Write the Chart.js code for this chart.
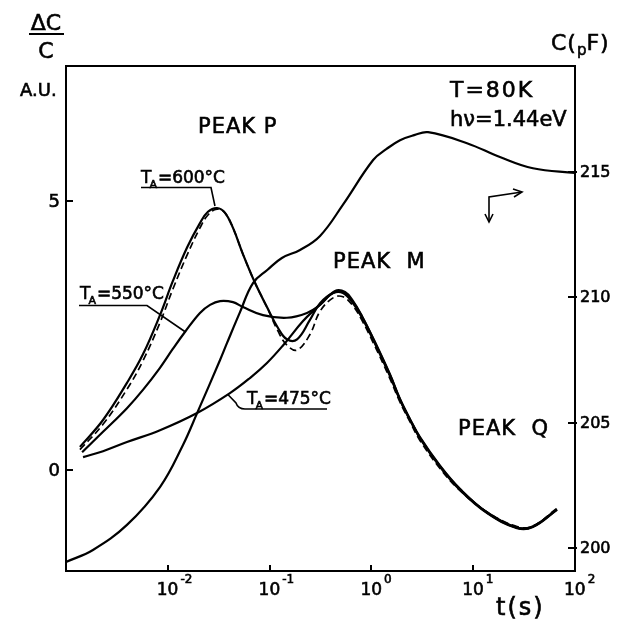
<!DOCTYPE html>
<html>
<head>
<meta charset="utf-8">
<script src="https://cdn.jsdelivr.net/npm/chart.js@4/dist/chart.umd.min.js"></script>
<style>
  html, body { margin: 0; padding: 0; background: #fff; }
</style>
</head>
<body>
<canvas id="chart" width="627" height="619"></canvas>
<script>
// capacitance transient C(t), right axis (pF)
const tCap = [0.00100, 0.00184, 0.00397, 0.00838, 0.0141, 0.0194, 0.0326, 0.0382, 0.0512, 0.0687,
  0.0955, 0.132, 0.199, 0.313, 0.526, 1.04, 1.41, 1.91, 2.63, 3.60, 8.69, 18.3, 38.6, 100];
const capPF = [199.44, 199.92, 200.92, 202.43, 204.11, 205.38, 207.50, 208.18, 209.41, 210.57,
  211.10, 211.57, 211.89, 212.45, 213.70, 215.48, 215.92, 216.27, 216.47, 216.59, 216.15, 215.60, 215.15, 214.96];

// dC/C spectra, left axis (A.U.)
const t600 = [0.00137, 0.00231, 0.00397, 0.00570, 0.00838, 0.0112, 0.0155, 0.0207, 0.0248, 0.0304,
  0.0365, 0.0437, 0.0548, 0.0719, 0.0942, 0.121, 0.148, 0.186, 0.249, 0.313, 0.420, 0.526, 0.661,
  0.809, 1.04, 1.52, 1.91, 2.39, 3.00, 4.72, 7.41, 13.7, 26.9, 38.6, 66.5];
const dc600 = [0.43, 0.93, 1.62, 2.15, 2.88, 3.51, 4.14, 4.59, 4.80, 4.87,
  4.78, 4.50, 4.01, 3.48, 3.03, 2.64, 2.43, 2.43, 2.79, 3.10, 3.29, 3.29, 3.10,
  2.83, 2.42, 1.75, 1.30, 0.93, 0.59, 0.06, -0.37, -0.80, -1.08, -1.06, -0.74];
const dc600b = [0.38, 0.85, 1.50, 2.03, 2.74, 3.36, 4.00, 4.50, 4.74, 4.85,
  4.78, 4.50, 4.01, 3.48, 3.03, 2.58, 2.32, 2.23, 2.52, 2.95, 3.20, 3.22, 3.05,
  2.78, 2.37, 1.70, 1.26, 0.90, 0.55, 0.03, -0.38, -0.78, -1.05, -1.04, -0.71];

const t550 = [0.00144, 0.00231, 0.00397, 0.00570, 0.00838, 0.0112, 0.0148, 0.0207, 0.0260, 0.0326,
  0.0437, 0.0548, 0.0861, 0.148, 0.233, 0.313, 0.440, 0.551, 0.661, 0.809, 1.04, 1.52, 1.91, 2.39,
  3.00, 4.72, 7.41, 13.7, 26.9, 38.6, 66.5];
const dc550 = [0.33, 0.71, 1.15, 1.49, 1.90, 2.25, 2.57, 2.92, 3.07, 3.14,
  3.12, 3.03, 2.88, 2.83, 2.92, 3.07, 3.33, 3.31, 3.14, 2.86, 2.45, 1.78, 1.32, 0.95,
  0.61, 0.08, -0.35, -0.79, -1.07, -1.05, -0.73];

const t475 = [0.00147, 0.00231, 0.00397, 0.00838, 0.0194, 0.0408, 0.0641, 0.0942, 0.136, 0.213,
  0.292, 0.420, 0.526, 0.661, 0.809, 1.04, 1.52, 1.91, 2.39, 3.00, 4.72, 7.41, 13.7, 26.9, 38.6, 66.5];
const dc475 = [0.24, 0.35, 0.52, 0.74, 1.06, 1.43, 1.71, 1.99, 2.32, 2.77,
  3.02, 3.29, 3.31, 3.12, 2.85, 2.44, 1.77, 1.31, 0.94, 0.60, 0.07, -0.36, -0.79, -1.07, -1.05, -0.73];

const xDecades = [0.01, 0.1, 1, 10, 100];
const xExponents = ['-2', '-1', '0', '1', '2'];
const leftTicks = [0, 5];
const rightTicks = [200, 205, 210, 215];

const FONT = '"DejaVu Sans", sans-serif';
const pts = (xs, ys) => xs.map((x, i) => ({ x, y: ys[i] }));

function line(data, axis, extra) {
  return Object.assign({
    data,
    yAxisID: axis,
    borderColor: '#000',
    borderWidth: 2.2,
    pointRadius: 0,
    fill: false,
    tension: 0.4
  }, extra || {});
}

// filled text with a thin outline, for a pen-lettered weight
function txt(ctx, s, x, y, size, spacing) {
  ctx.font = size + 'px ' + FONT;
  ctx.letterSpacing = (spacing || 0) + 'px';
  ctx.lineWidth = 0.6;
  ctx.fillText(s, x, y);
  ctx.strokeText(s, x, y);
  const w = ctx.measureText(s).width;
  ctx.letterSpacing = '0px';
  return w;
}

// T with subscript A, followed by the rest of the label
function drawTA(ctx, x, y, rest) {
  let w = txt(ctx, 'T', x, y, 17);
  w += txt(ctx, 'A', x + w - 2, y + 5, 11) - 2;
  txt(ctx, rest, x + w + 1, y, 17);
}

function seg(ctx, pts) {
  ctx.beginPath();
  ctx.moveTo(pts[0][0], pts[0][1]);
  for (let i = 1; i < pts.length; i++) ctx.lineTo(pts[i][0], pts[i][1]);
  ctx.stroke();
}

const decorations = {
  id: 'decorations',
  afterDraw(chart) {
    const ctx = chart.ctx;
    const a = chart.chartArea;
    const sx = chart.scales.x, sy = chart.scales.y, sy2 = chart.scales.y2;
    ctx.save();
    ctx.strokeStyle = '#000';
    ctx.fillStyle = '#000';
    ctx.lineWidth = 2;

    // top of the frame
    seg(ctx, [[a.left - 1, a.top], [a.right + 1, a.top]]);

    // inward tick marks and y labels
    ctx.lineWidth = 2;
    xDecades.slice(0, 4).forEach(v => {
      const px = Math.round(sx.getPixelForValue(v));
      seg(ctx, [[px, a.bottom], [px, a.bottom - 6]]);
    });
    leftTicks.forEach(v => {
      const py = Math.round(sy.getPixelForValue(v));
      ctx.lineWidth = 2;
      seg(ctx, [[a.left, py], [a.left + 7, py]]);
      ctx.textAlign = 'right';
      ctx.textBaseline = 'middle';
      txt(ctx, String(v), a.left - 6, py + 1, 18);
    });
    rightTicks.forEach(v => {
      const py = Math.round(sy2.getPixelForValue(v));
      ctx.lineWidth = 2;
      seg(ctx, [[a.right - 7, py], [a.right + 2, py]]);
      ctx.textAlign = 'left';
      ctx.textBaseline = 'middle';
      txt(ctx, String(v), a.right + 5, py + 1, 16);
    });

    // decade labels 10^n
    ctx.textBaseline = 'alphabetic';
    ctx.textAlign = 'left';
    xDecades.forEach((v, i) => {
      const px = sx.getPixelForValue(v);
      const x0 = px - 11;
      const w1 = txt(ctx, '10', x0, a.bottom + 24, 17);
      txt(ctx, xExponents[i], x0 + w1 + 2, a.bottom + 12, 12);
    });

    // axis titles
    txt(ctx, 't(s)', 496, 615, 24, 2);

    ctx.textAlign = 'center';
    txt(ctx, '\u0394C', 46, 30, 22);
    txt(ctx, 'C', 46, 58, 22);
    ctx.lineWidth = 2;
    seg(ctx, [[29, 34], [64, 34]]);
    ctx.textAlign = 'left';
    txt(ctx, 'A.U.', 20, 96, 18);

    let w = txt(ctx, 'C(', 551, 50, 22, 1);
    w += txt(ctx, 'p', 551 + w, 55, 15);
    txt(ctx, 'F)', 551 + w, 50, 22, 1);

    // conditions
    txt(ctx, 'T=80K', 450, 97, 22, 2);
    txt(ctx, 'h\u03bd=1.44eV', 450, 126, 21);

    // peak names
    txt(ctx, 'PEAK P', 198, 133, 21, 1);
    txt(ctx, 'PEAK  M', 333, 268, 21, 1);
    txt(ctx, 'PEAK  Q', 458, 435, 21, 1);

    // annealing temperature labels with leader lines
    drawTA(ctx, 141, 183, '=600\u00b0C');
    const p600 = [sx.getPixelForValue(0.0304), sy.getPixelForValue(4.87)];
    ctx.lineWidth = 1.6;
    seg(ctx, [[141, 187.5], [211, 187.5], [p600[0] - 2, p600[1] - 2]]);

    drawTA(ctx, 80, 299, '=550\u00b0C');
    const p550 = [sx.getPixelForValue(0.0148), sy.getPixelForValue(2.57)];
    ctx.lineWidth = 1.6;
    seg(ctx, [[79, 305.5], [147, 305.5], [p550[0], p550[1]]]);

    drawTA(ctx, 247, 404, '=475\u00b0C');
    const p475 = [sx.getPixelForValue(0.0391), sy.getPixelForValue(1.40)];
    ctx.lineWidth = 1.6;
    ctx.beginPath();
    ctx.moveTo(p475[0], p475[1]);
    ctx.lineTo(236, 403);
    ctx.quadraticCurveTo(238, 409, 245, 409);
    ctx.lineTo(327, 409);
    ctx.stroke();

    // axis-direction arrow symbol
    ctx.lineWidth = 1.6;
    seg(ctx, [[489, 222], [489, 197], [522, 192]]);
    seg(ctx, [[485, 214], [489, 222], [493, 214]]);
    seg(ctx, [[513, 189], [522, 192], [514, 197]]);

    ctx.restore();
  }
};

new Chart(document.getElementById('chart'), {
  type: 'line',
  data: {
    datasets: [
      line(pts(tCap, capPF), 'y2'),
      line(pts(t475, dc475), 'y'),
      line(pts(t550, dc550), 'y'),
      line(pts(t600, dc600b), 'y', { borderDash: [7, 4], borderWidth: 1.7 }),
      line(pts(t600, dc600), 'y')
    ]
  },
  options: {
    responsive: false,
    animation: false,
    layout: { padding: { top: 66, left: 0, right: 0, bottom: 0 } },
    plugins: { legend: { display: false }, tooltip: { enabled: false } },
    scales: {
      x: {
        type: 'logarithmic',
        min: 0.001,
        max: 100,
        ticks: { display: false },
        grid: { display: false },
        border: { display: true, color: '#000', width: 2 },
        afterFit: s => { s.height = 48; }
      },
      y: {
        type: 'linear',
        position: 'left',
        min: -1.877,
        max: 7.51,
        ticks: { display: false },
        grid: { display: false },
        border: { display: true, color: '#000', width: 2 },
        afterFit: s => { s.width = 66; }
      },
      y2: {
        type: 'linear',
        position: 'right',
        min: 199.08,
        max: 219.23,
        ticks: { display: false },
        grid: { display: false },
        border: { display: true, color: '#000', width: 2 },
        afterFit: s => { s.width = 52; }
      }
    }
  },
  plugins: [decorations]
});
</script>
</body>
</html>
